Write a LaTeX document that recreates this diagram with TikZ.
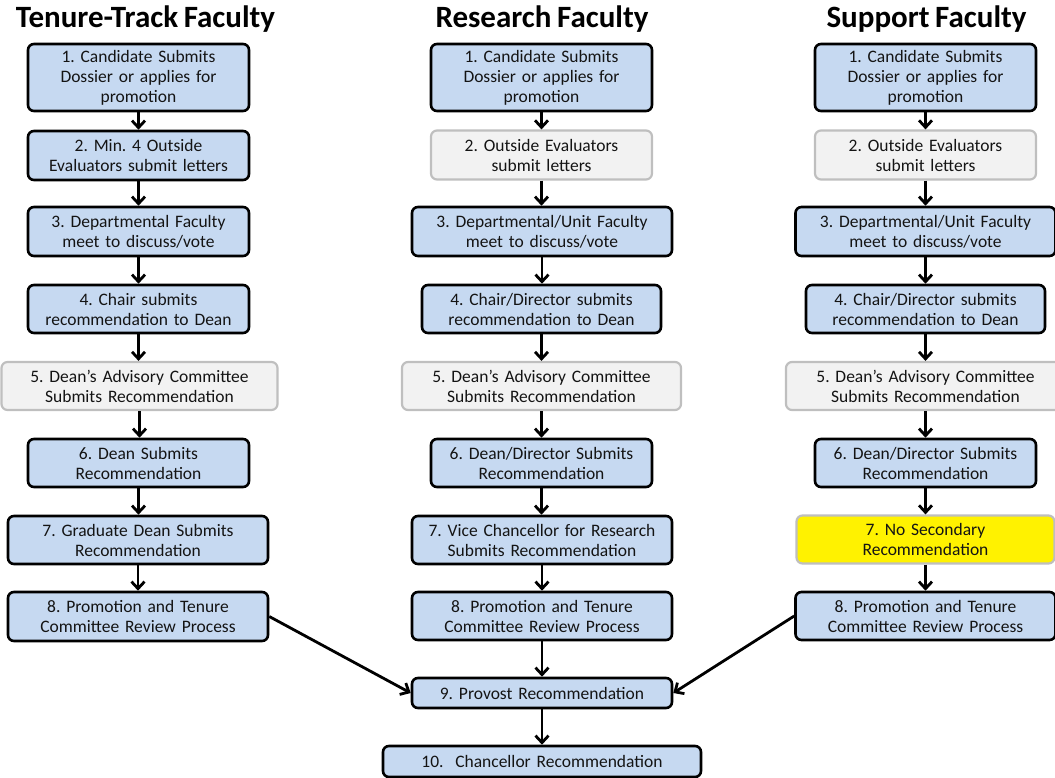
\documentclass[tikz,border=0pt]{standalone}
\usepackage{fontspec}
\setmainfont{Carlito}[WordSpace=0.8]
\usetikzlibrary{arrows.meta}
\definecolor{boxblue}{RGB}{198,217,241}
\definecolor{boxgrey}{RGB}{242,242,242}
\definecolor{greyline}{RGB}{191,191,191}
\definecolor{txt}{RGB}{20,20,20}
\tikzset{
  base/.style={rounded corners=6pt, align=center, inner sep=0pt, text=txt,
    font=\fontsize{17.5}{20}\selectfont\frenchspacing},
  bluebox/.style={base, draw=black, line width=2.6pt, fill=boxblue},
  greybox/.style={base, draw=greyline, line width=2.2pt, fill=boxgrey},
  yellowbox/.style={base, draw=greyline, line width=2.2pt, fill=yellow},
  title/.style={font=\fontsize{31}{34}\selectfont\bfseries, text=black, inner sep=0pt, anchor=base},
  flow/.style={line width=2.8pt, -{Straight Barb[length=7pt,width=13pt]}}
}
\newcommand{\bx}[7]{\node[#1, minimum width=#4pt, minimum height=#5pt, text width=#6pt] (#2) at (#3) {#7};}
\begin{document}
\begin{tikzpicture}[x=1pt,y=-1pt]
\useasboundingbox (0,0) rectangle (1055,778);
% titles
\node[title] (h1) at (145.5,28) {Tenure-Track Faculty};
\node[title] (h2) at (542,28) {Research Faculty};
\node[title] (h3) at (926.5,28) {Support Faculty};
% column 1
\bx{bluebox}{t1}{138.5,77.5}{221}{67}{215}{1. Candidate Submits\\Dossier or applies for\\promotion}
\bx{bluebox}{t2}{138.5,155.5}{221}{49}{215}{2. Min. 4 Outside\\Evaluators submit letters}
\bx{bluebox}{t3}{138.5,231.5}{221}{49}{215}{3. Departmental Faculty\\meet to discuss/vote}
\bx{bluebox}{t4}{138.5,309}{221}{48}{215}{4. Chair submits\\recommendation to Dean}
\bx{greybox}{t5}{139.5,386}{276}{48}{270}{5. Dean’s Advisory Committee\\Submits Recommendation}
\bx{bluebox}{t6}{138.5,463}{221}{48}{215}{6. Dean Submits\\Recommendation}
\bx{bluebox}{t7}{138,540}{260}{48}{254}{7. Graduate Dean Submits\\Recommendation}
\bx{bluebox}{t8}{138,616.5}{260}{49}{254}{8. Promotion and Tenure\\Committee Review Process}
% column 2
\bx{bluebox}{r1}{541.5,77.5}{221}{67}{215}{1. Candidate Submits\\Dossier or applies for\\promotion}
\bx{greybox}{r2}{541.5,155}{221}{49}{215}{2. Outside Evaluators\\submit letters}
\bx{bluebox}{r3}{542,231.5}{260}{49}{254}{3. Departmental/Unit Faculty\\meet to discuss/vote}
\bx{bluebox}{r4}{541.5,309}{239}{48}{233}{4. Chair/Director submits\\recommendation to Dean}
\bx{greybox}{r5}{541.5,386}{279}{48}{273}{5. Dean’s Advisory Committee\\Submits Recommendation}
\bx{bluebox}{r6}{541.5,463}{221}{48}{215}{6. Dean/Director Submits\\Recommendation}
\bx{bluebox}{r7}{542,540}{260}{48}{254}{7. Vice Chancellor for Research\\Submits Recommendation}
\bx{bluebox}{r8}{542,616}{260}{48}{254}{8. Promotion and Tenure\\Committee Review Process}
\bx{bluebox}{p9}{542,693}{260}{30}{254}{9. Provost Recommendation}
\bx{bluebox}{c10}{542,761.5}{318}{31}{312}{10.\ \ Chancellor Recommendation}
% column 3
\bx{bluebox}{s1}{925.5,77.5}{221}{67}{215}{1. Candidate Submits\\Dossier or applies for\\promotion}
\bx{greybox}{s2}{925.5,155}{221}{49}{215}{2. Outside Evaluators\\submit letters}
\bx{bluebox}{s3}{925.5,231.5}{260}{49}{254}{3. Departmental/Unit Faculty\\meet to discuss/vote}
\bx{bluebox}{s4}{925.5,309}{239}{48}{233}{4. Chair/Director submits\\recommendation to Dean}
\bx{greybox}{s5}{925.5,386}{279}{48}{273}{5. Dean’s Advisory Committee\\Submits Recommendation}
\bx{bluebox}{s6}{925.5,463}{221}{48}{215}{6. Dean/Director Submits\\Recommendation}
\bx{yellowbox}{s7}{925.5,539.5}{258}{48}{252}{7. No Secondary\\Recommendation}
\bx{bluebox}{s8}{925.5,616}{260}{48}{254}{8. Promotion and Tenure\\Committee Review Process}
% arrows
\foreach \c in {t,r,s}{
  \foreach \a/\b in {1/2,2/3,3/4,4/5,5/6,6/7,7/8}{
    \draw[flow] (\c\a.south) -- (\c\a.south |- \c\b.north);
  }
}
\draw[flow] (r8.south) -- (p9.north);
\draw[flow] (p9.south) -- (c10.north);
\draw[flow] (t8.east) -- (p9.west);
\draw[flow] (s8.west) -- (p9.east);
\end{tikzpicture}
\end{document}
